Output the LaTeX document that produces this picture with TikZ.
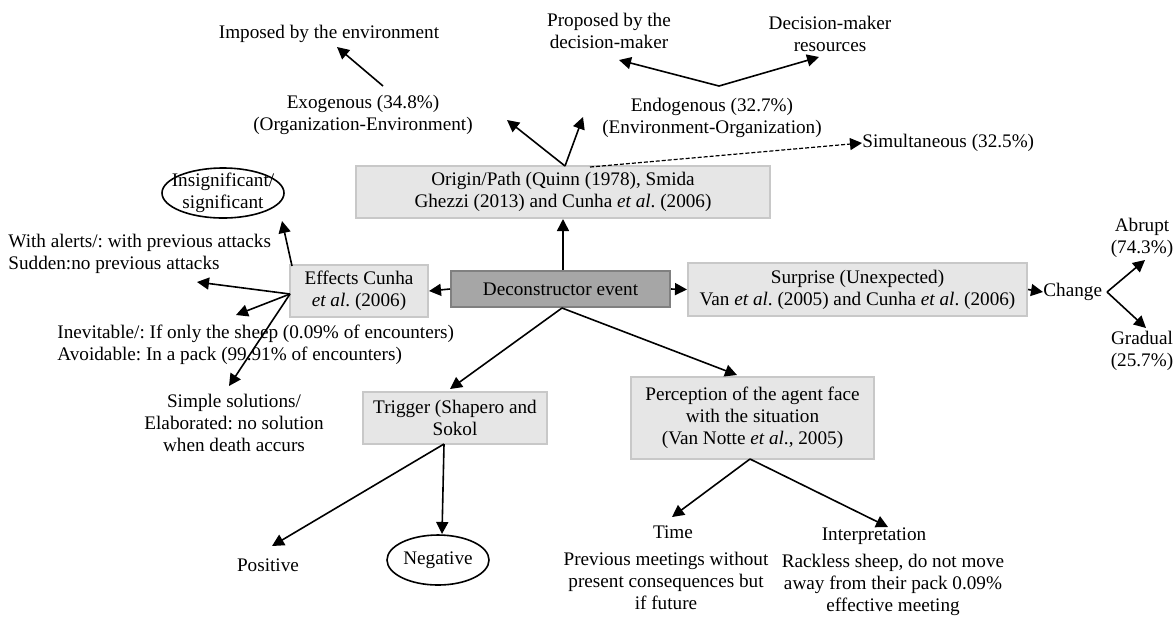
\documentclass[tikz,border=0pt]{standalone}
\usepackage{fontspec}
\setmainfont{Liberation Serif}
\usetikzlibrary{arrows.meta,shapes.geometric}
\definecolor{lfill}{HTML}{E6E6E6}
\definecolor{lline}{HTML}{C8C8C8}
\definecolor{dfill}{HTML}{A6A6A6}
\definecolor{dline}{HTML}{808080}
\frenchspacing
\begin{document}
\begin{tikzpicture}[x=0.5pt,y=-0.5pt,
  every node/.style={font=\fontsize{9.6}{11}\selectfont, inner sep=0pt, align=center},
  lbox/.style={rectangle, draw=lline, fill=lfill, line width=1pt},
  dbox/.style={rectangle, draw=dline, fill=dfill, line width=1pt},
  arr/.style={-{Triangle[length=6pt,width=6pt]}, line width=0.8pt},
  dasharr/.style={-{Triangle[length=6pt,width=6pt]}, line width=0.6pt, dashed, dash pattern=on 2pt off 1pt},
  oval/.style={line width=0.8pt}]
\useasboundingbox (0,0) rectangle (1176,618);

% text nodes
\node (imposed) at (329,34) {Imposed by the environment};
\node (exo) at (363,115) {Exogenous (34.8\%)\\(Organization-Environment)};
\node (prop) at (609,31) {Proposed by the\\decision-maker};
\node (dmr) at (830,34) {Decision-maker\\resources};
\node (endo) at (712,118) {Endogenous (32.7\%)\\(Environment-Organization)};
\node[anchor=west] (sim) at (862,143) {Simultaneous (32.5\%)};

% boxes
\node[lbox, minimum width=207pt, minimum height=26pt] (origin) at (563,192)
  {Origin/Path (Quinn (1978), Smida\\Ghezzi (2013) and Cunha \textit{et al}. (2006)};
\node[dbox, minimum width=109.5pt, minimum height=18pt] (decon) at (560.5,289) {Deconstructor event};
\node[lbox, minimum width=69pt, minimum height=26pt] (effects) at (359,291) {Effects Cunha\\\textit{et al}. (2006)};
\node[lbox, minimum width=169.5pt, minimum height=26.5pt] (surprise) at (857.5,289.5)
  {Surprise (Unexpected)\\Van \textit{et al}. (2005) and Cunha \textit{et al}. (2006)};
\node[lbox, minimum width=92pt, minimum height=26pt] (trigger) at (455,418) {Trigger (Shapero and\\Sokol};
\node[lbox, minimum width=121.5pt, minimum height=41pt] (percep) at (752.5,418)
  {Perception of the agent face\\with the situation\\(Van Notte \textit{et al}., 2005)};

\node[anchor=west] (change) at (1043,292) {Change};
\node (abrupt) at (1142,238) {Abrupt\\(74.3\%)};
\node (gradual) at (1142,351) {Gradual\\(25.7\%)};

\node (insig) at (223,193) {Insignificant/\\significant};
\draw[oval] (insig.center) ellipse [x radius=61, y radius=25];
\node[anchor=west, align=left] (alerts) at (8,254) {With alerts/: with previous attacks\\Sudden:no previous attacks};
\node[anchor=west, align=left] (inev) at (57,345) {Inevitable/: If only the sheep (0.09\% of encounters)\\Avoidable: In a pack (99.91\% of encounters)};
\node (simple) at (234,423) {Simple solutions/\\Elaborated: no solution\\when death accurs};

\node (negative) at (438,560) {Negative};
\draw[oval] (negative.center) ellipse [x radius=51, y radius=25];
\node (positive) at (268,565) {Positive};

\node (time) at (673,532) {Time};
\node (timed) at (666,581) {Previous meetings without\\present consequences but\\if future};
\node (interp) at (874,536) {Interpretation};
\node (interpd) at (893,585) {Rackless sheep, do not move\\away from their pack 0.09\%\\effective meeting};

% connector end points
\coordinate (exoT) at (383,86);
\coordinate (impB) at (337,47);
\coordinate (orT) at (565,166);
\coordinate (exoE) at (507,120);
\coordinate (endoE) at (583,117);
\coordinate (endoT) at (719,86);
\coordinate (propE) at (619,60);
\coordinate (dmrE) at (819,57);
\coordinate (dashS) at (590,167);
\coordinate (chV) at (1107,292);
\coordinate (abE) at (1145,260);
\coordinate (grE) at (1146,328);
\coordinate (efT) at (292,266);
\coordinate (insE) at (282,221);
\coordinate (efL) at (290,294);
\coordinate (alE) at (197,282);
\coordinate (inE) at (236,315);
\coordinate (siE) at (229,386);
\coordinate (deB) at (562,308);
\coordinate (trE) at (450,389);
\coordinate (peE) at (737,375);
\coordinate (trB) at (444,444);
\coordinate (poE) at (272,546);
\coordinate (neE) at (442,534);
\coordinate (peB) at (750,459);
\coordinate (tiE) at (672,517);
\coordinate (ipE) at (888,527);

% connectors
\draw[arr] (exoT) -- (impB);
\draw[arr] (orT) -- (exoE);
\draw[arr] (orT) -- (endoE);
\draw[arr] (endoT) -- (propE);
\draw[arr] (endoT) -- (dmrE);
\draw[dasharr] (dashS) -- (sim.west);
\draw[arr] (origin.south |- decon.north) -- (origin.south);
\draw[arr] (decon.west) -- (effects.east);
\draw[arr] (decon.east) -- (surprise.west);
\draw[arr] (surprise.east) -- (change.west);
\draw[arr] (chV) -- (abE);
\draw[arr] (chV) -- (grE);
\draw[arr] (efT) -- (insE);
\draw[arr] (efL) -- (alE);
\draw[arr] (efL) -- (inE);
\draw[arr] (efL) -- (siE);
\draw[arr] (deB) -- (trE);
\draw[arr] (deB) -- (peE);
\draw[arr] (trB) -- (poE);
\draw[arr] (trB) -- (neE);
\draw[arr] (peB) -- (tiE);
\draw[arr] (peB) -- (ipE);
\end{tikzpicture}
\end{document}
